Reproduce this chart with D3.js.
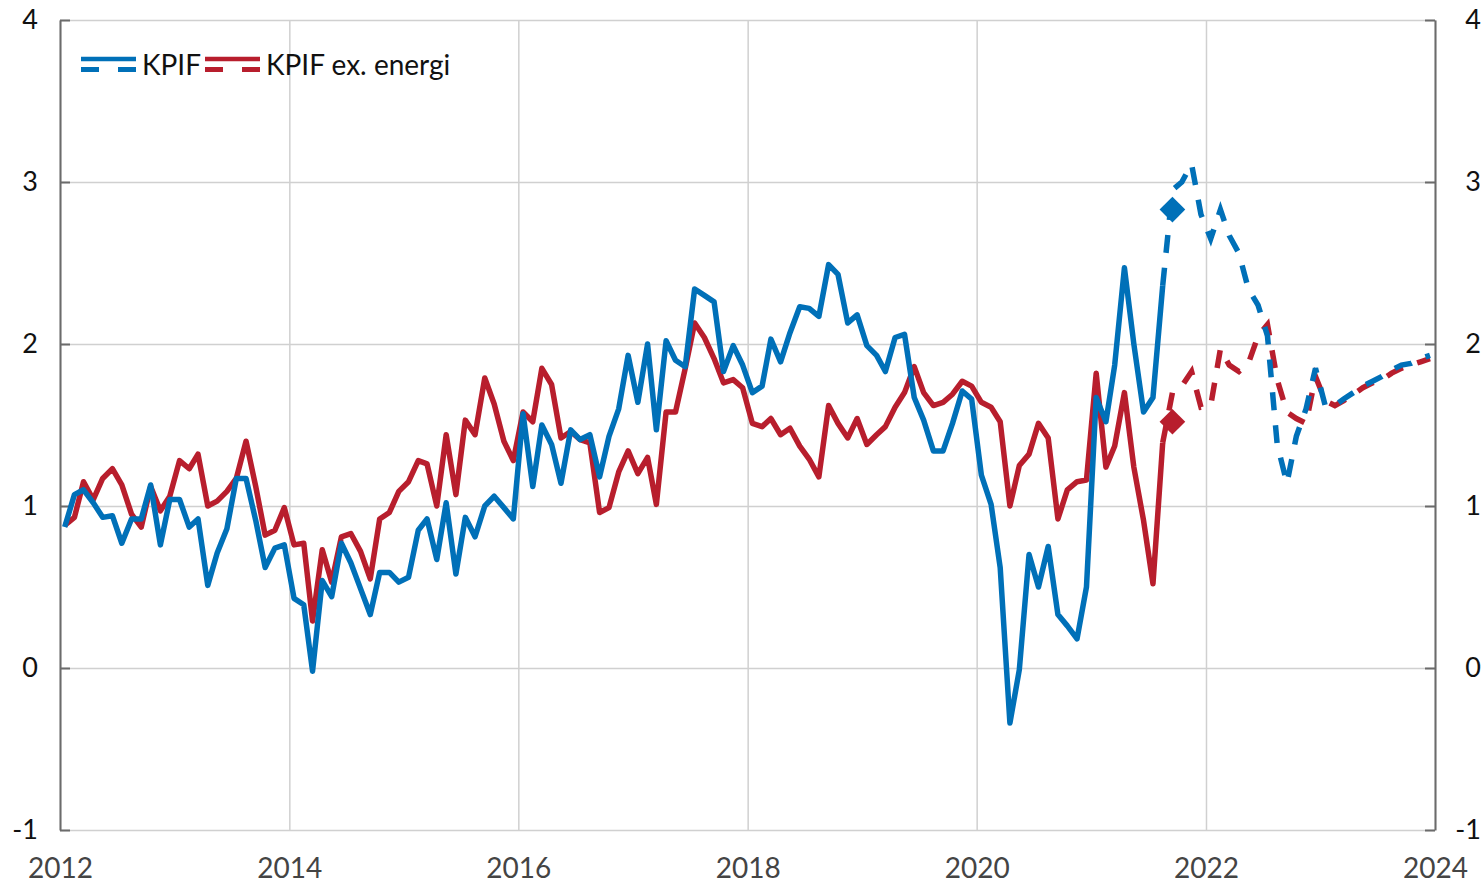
<!DOCTYPE html>
<html>
<head>
<meta charset="utf-8">
<script src="https://cdn.jsdelivr.net/npm/d3@7"></script>
<style>
  body { margin: 0; background: #fff; }
  svg { display: block; font-family: Lato, "Open Sans", sans-serif; }
</style>
</head>
<body>
<div id="chart"></div>
<script>
// monthly values, Jan 2012 - Aug 2021 (outcome)
var kpif = [
  0.87, 1.07, 1.10, 1.02, 0.93, 0.94, 0.77, 0.92, 0.92, 1.13, 0.76, 1.04,
  1.04, 0.87, 0.92, 0.51, 0.71, 0.86, 1.17, 1.17, 0.91, 0.62, 0.74, 0.76,
  0.43, 0.39, -0.02, 0.54, 0.44, 0.77, 0.65, 0.49, 0.33, 0.59, 0.59, 0.53,
  0.56, 0.85, 0.92, 0.67, 1.02, 0.58, 0.93, 0.81, 1.00, 1.06, 0.99, 0.92,
  1.57, 1.12, 1.50, 1.38, 1.14, 1.47, 1.41, 1.44, 1.18, 1.43, 1.60, 1.93,
  1.64, 2.00, 1.47, 2.02, 1.90, 1.86, 2.34, 2.30, 2.26, 1.83, 1.99, 1.87,
  1.70, 1.74, 2.03, 1.89, 2.07, 2.23, 2.22, 2.17, 2.49, 2.43, 2.13, 2.18,
  1.99, 1.93, 1.83, 2.04, 2.06, 1.67, 1.53, 1.34, 1.34, 1.51, 1.71, 1.66,
  1.19, 1.01, 0.62, -0.34, -0.01, 0.70, 0.50, 0.75, 0.33, 0.26, 0.18, 0.50,
  1.67, 1.52, 1.87, 2.47, 2.00, 1.58, 1.67, 2.36
];
var kpifExEnergi = [
  0.88, 0.93, 1.15, 1.04, 1.17, 1.23, 1.13, 0.95, 0.87, 1.12, 0.97, 1.06,
  1.28, 1.23, 1.32, 1.00, 1.03, 1.09, 1.17, 1.40, 1.12, 0.82, 0.85, 0.99,
  0.76, 0.77, 0.29, 0.73, 0.53, 0.81, 0.83, 0.72, 0.55, 0.92, 0.96, 1.09,
  1.15, 1.28, 1.26, 1.00, 1.44, 1.07, 1.53, 1.44, 1.79, 1.63, 1.40, 1.28,
  1.58, 1.52, 1.85, 1.75, 1.42, 1.46, 1.41, 1.39, 0.96, 0.99, 1.21, 1.34,
  1.20, 1.30, 1.01, 1.58, 1.58, 1.85, 2.13, 2.04, 1.91, 1.76, 1.78, 1.73,
  1.51, 1.49, 1.54, 1.44, 1.48, 1.37, 1.29, 1.18, 1.62, 1.51, 1.42, 1.54,
  1.38, 1.44, 1.49, 1.61, 1.70, 1.86, 1.70, 1.62, 1.64, 1.69, 1.77, 1.74,
  1.64, 1.61, 1.52, 1.00, 1.25, 1.32, 1.51, 1.42, 0.92, 1.10, 1.15, 1.16,
  1.82, 1.24, 1.37, 1.70, 1.24, 0.91, 0.52, 1.39
];
// forecast, Sep 2021 - Dec 2023
var kpifForecast = [
  2.95, 3.00, 3.11, 2.80, 2.65, 2.83, 2.67, 2.56, 2.34, 2.24, 2.05, 1.38,
  1.14, 1.43, 1.60, 1.85, 1.62, 1.62, 1.66, 1.70, 1.74, 1.77, 1.80, 1.84,
  1.87, 1.88, 1.91, 1.93
];
var kpifExEnergiForecast = [
  1.70, 1.74, 1.83, 1.61, 1.62, 1.97, 1.87, 1.83, 1.88, 2.05, 2.12, 1.78,
  1.58, 1.54, 1.51, 1.80, 1.65, 1.62, 1.65, 1.69, 1.73, 1.76, 1.78, 1.82,
  1.85, 1.87, 1.89, 1.91
];
// outcome September 2021 (diamonds)
var outcomeSep = { kpif: 2.83, kpifExEnergi: 1.52 };
var yTicks = [-1, 0, 1, 2, 3, 4];
var xTickYears = [2012, 2014, 2016, 2018, 2020, 2022, 2024];

var blue = "#0070b8", red = "#b81e2d";

var W = 1484, H = 884;
var margin = { top: 20, right: 49, bottom: 54, left: 60 };
var width = W - margin.left - margin.right;
var height = H - margin.top - margin.bottom;

var svg = d3.select("#chart").append("svg")
    .attr("width", W)
    .attr("height", H);
var g = svg.append("g")
    .attr("transform", "translate(" + margin.left + "," + margin.top + ")");

var x = d3.scaleTime()
    .domain([new Date(2012, 0, 1), new Date(2024, 0, 1)])
    .range([0, width]);
var y = d3.scaleLinear()
    .domain([-1, 4])
    .range([height, 0]);

function monthDate(i) { return new Date(2012, i, 16); }
var yearDates = xTickYears.map(function(yr) { return new Date(yr, 0, 1); });
var intFormat = function(d) { return String(d); };

// gridlines
g.append("g")
    .attr("class", "grid")
    .call(d3.axisLeft(y).tickValues(yTicks).tickSize(-width).tickFormat(""))
    .call(function(s) { s.select(".domain").remove(); });
g.append("g")
    .attr("class", "grid")
    .attr("transform", "translate(0," + height + ")")
    .call(d3.axisBottom(x).tickValues(yearDates).tickSize(-height).tickFormat(""))
    .call(function(s) { s.select(".domain").remove(); });
g.selectAll(".grid line").attr("stroke", "#d0d0d0").attr("stroke-width", 1.5);

// axes
var left = g.append("g")
    .call(d3.axisLeft(y).tickValues(yTicks).tickSize(-10).tickSizeOuter(0)
        .tickPadding(22).tickFormat(intFormat));
var right = g.append("g")
    .attr("transform", "translate(" + width + ",0)")
    .call(d3.axisRight(y).tickValues(yTicks).tickSize(-10).tickSizeOuter(0)
        .tickPadding(30).tickFormat(intFormat));
right.selectAll("text").attr("x", 46).attr("text-anchor", "end");
[left, right].forEach(function(a) {
    a.selectAll("path, line").attr("stroke", "#6b6b6b").attr("stroke-width", 2);
    a.selectAll("text").attr("font-size", 27).attr("fill", "#111").style("font-family", "Lato, sans-serif");
});
var bottom = g.append("g")
    .attr("transform", "translate(0," + height + ")")
    .call(d3.axisBottom(x).tickValues(yearDates)
        .tickSize(0).tickPadding(28).tickFormat(d3.timeFormat("%Y")));
bottom.select(".domain").remove();
bottom.selectAll("text").attr("font-size", 28).attr("fill", "#444").style("font-family", "Lato, sans-serif");

// lines
var line = d3.line()
    .x(function(d) { return x(d.date); })
    .y(function(d) { return y(d.value); });

function series(actual, forecast) {
    var a = actual.map(function(v, i) { return { date: monthDate(i), value: v }; });
    var f = [a[a.length - 1]].concat(forecast.map(function(v, i) {
        return { date: monthDate(actual.length + i), value: v };
    }));
    return { actual: a, forecast: f };
}

var sRed = series(kpifExEnergi, kpifExEnergiForecast);
var sBlue = series(kpif, kpifForecast);

[[sRed, red], [sBlue, blue]].forEach(function(p) {
    g.append("path")
        .datum(p[0].actual)
        .attr("fill", "none")
        .attr("stroke", p[1])
        .attr("stroke-width", 5.5)
        .attr("stroke-linejoin", "round")
        .attr("d", line);
    g.append("path")
        .datum(p[0].forecast)
        .attr("fill", "none")
        .attr("stroke", p[1])
        .attr("stroke-width", 5.5)
        .attr("stroke-dasharray", "18,15")
        .attr("d", line);
});

// diamonds for September outcome
var diamond = d3.symbol().type(d3.symbolSquare).size(330);
[[outcomeSep.kpifExEnergi, red], [outcomeSep.kpif, blue]].forEach(function(p) {
    g.append("path")
        .attr("d", diamond)
        .attr("fill", p[1])
        .attr("transform", "translate(" + x(monthDate(kpif.length)) + "," + y(p[0]) + ") rotate(45)");
});

// legend
var legendItems = [
    { label: "KPIF", color: blue, x: 81 },
    { label: "KPIF ex. energi", color: red, x: 205 }
];
var legend = svg.append("g");
legendItems.forEach(function(d) {
    legend.append("line")
        .attr("x1", d.x).attr("x2", d.x + 55)
        .attr("y1", 59).attr("y2", 59)
        .attr("stroke", d.color).attr("stroke-width", 4.5);
    legend.append("line")
        .attr("x1", d.x).attr("x2", d.x + 55)
        .attr("y1", 69.5).attr("y2", 69.5)
        .attr("stroke", d.color).attr("stroke-width", 5)
        .attr("stroke-dasharray", "18,19");
    legend.append("text")
        .attr("x", d.x + 61)
        .attr("y", 75)
        .attr("font-size", 28)
        .attr("fill", "#111")
        .text(d.label);
});
</script>
</body>
</html>
